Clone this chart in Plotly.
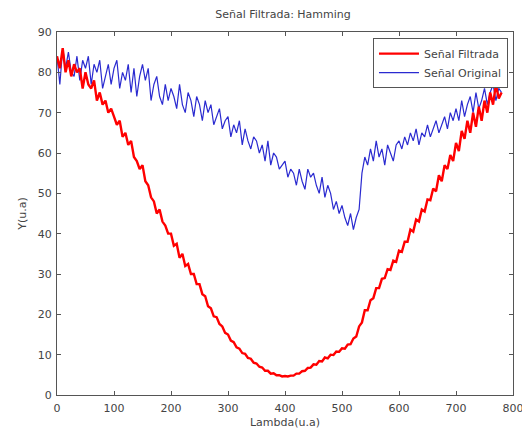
import plotly.graph_objects as go

lambda_x = list(range(0, 785, 5))

original = [
    84, 77, 86, 81, 85, 80, 79, 84, 78, 83,
    81, 84, 77, 82, 80, 83, 76, 79, 82, 77,
    81, 83, 76, 80, 78, 82, 75, 81, 74, 79,
    82, 78, 81, 73, 77, 79, 74, 72, 77, 73,
    76, 74, 71, 77, 72, 70, 75, 73, 69, 74,
    72, 68, 73, 70, 72, 67, 69, 71, 66, 68,
    69, 64, 67, 65, 68, 62, 66, 63, 61, 64,
    63, 60, 62, 58, 63, 57, 60, 59, 56, 57,
    58, 54, 56, 55, 52, 56, 53, 51, 56, 54,
    55, 52, 50, 54, 49, 52, 50, 46, 48, 45,
    47, 44, 42, 45, 41, 44, 46, 55, 59, 57,
    61, 58, 63, 59, 61, 57, 62, 60, 58, 62,
    63, 61, 64, 62, 65, 63, 66, 62, 65, 64,
    67, 64, 66, 68, 65, 67, 69, 66, 70, 68,
    71, 68, 73, 69, 72, 74, 70, 75, 71, 73,
    76, 72, 75, 77, 73, 76, 75,
]

filtrada = [
    84, 81, 86, 80, 83, 79, 82, 80, 81, 76,
    80, 77, 76, 78, 73, 75, 72, 73, 70, 71,
    69, 67, 68, 64, 65, 62, 63, 59, 58, 56,
    57, 53, 52, 49, 48, 45, 46, 43, 42, 40,
    40, 37, 37.5, 34, 35, 32, 32.5, 30, 30, 27.5,
    27.5, 25, 24.5, 22, 21.5, 19.5, 19.3, 17.6, 17, 15.4,
    15, 13.5, 13.1, 11.8, 11.5, 10.4, 10.2, 9.2, 9, 8,
    7.8, 7, 6.8, 6, 6, 5.3, 5.4, 4.9, 4.9, 4.6,
    4.7, 4.6, 4.8, 4.8, 5.3, 5.3, 5.9, 6, 6.7, 6.8,
    7.6, 7.5, 8.4, 8.3, 9.3, 9.1, 10, 9.9, 10.8, 10.7,
    11.6, 11.5, 12.5, 12.6, 14, 14.5, 17, 18, 21, 21,
    23.5, 24, 26.5, 26.5, 28.8, 29, 31.2, 31, 33.3, 33,
    35.8, 35.5, 38, 38, 41, 40.5, 43.5, 43, 46, 45.5,
    48.5, 48.3, 51.2, 50.5, 54.5, 53, 57, 56, 59.5, 58,
    62.5, 60.5, 65.5, 63.5, 68, 65, 70, 66.5, 71.5, 68,
    73, 70, 75, 72, 77, 73.5, 75,
]

x_ticks = [0, 100, 200, 300, 400, 500, 600, 700, 800]
y_ticks = [0, 10, 20, 30, 40, 50, 60, 70, 80, 90]

font = "DejaVu Sans, sans-serif"
txt = "#444444"
fs = 11

fig = go.Figure()
fig.add_trace(go.Scatter(
    x=lambda_x, y=original, mode="lines", name="Señal Original",
    line=dict(color="#2a2ad0", width=1.2), legendrank=2,
))
fig.add_trace(go.Scatter(
    x=lambda_x, y=filtrada, mode="lines", name="Señal Filtrada",
    line=dict(color="#ff0000", width=2.4), legendrank=1,
))

axis_common = dict(
    showgrid=False, zeroline=False, showline=True, linecolor="#555555",
    linewidth=1, mirror="ticks", ticks="inside", ticklen=4,
    tickcolor="#555555", tickfont=dict(family=font, size=fs, color=txt),
    automargin=False, ticklabeloverflow="allow",
)

fig.update_layout(
    width=514, height=421,
    margin=dict(l=49, r=9, t=24, b=34),
    paper_bgcolor="white", plot_bgcolor="white",
    title=dict(text="Señal Filtrada: Hamming", x=0.535, xanchor="center",
               y=0.985, yanchor="middle",
               font=dict(family=font, size=fs, color=txt)),
    xaxis=dict(range=[0, 800], tickvals=x_ticks, ticklabelstandoff=3,
               title=dict(text="Lambda(u.a)", standoff=8,
                          font=dict(family=font, size=fs, color=txt)),
               **axis_common),
    yaxis=dict(range=[0, 90], tickvals=y_ticks, ticklabelstandoff=2,
               title=dict(text="Y(u.a)", standoff=8,
                          font=dict(family=font, size=fs, color=txt)),
               **axis_common),
    legend=dict(x=0.989, xanchor="right", y=0.983, yanchor="top",
                bgcolor="white", bordercolor="#555555", borderwidth=1,
                font=dict(family=font, size=fs, color=txt),
                tracegroupgap=0, itemwidth=40),
    showlegend=True,
)

fig.write_html("out.html")
